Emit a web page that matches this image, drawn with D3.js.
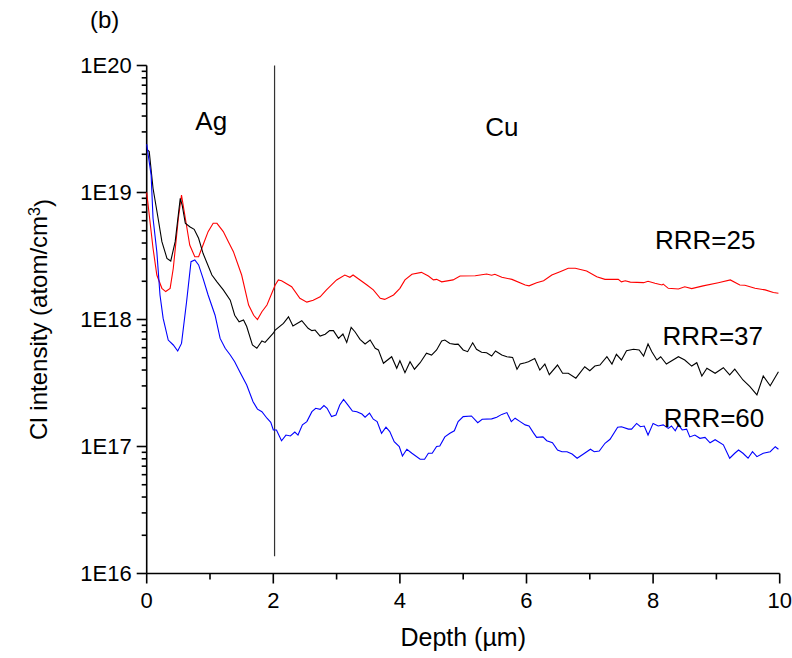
<!DOCTYPE html>
<html>
<head>
<meta charset="utf-8">
<script src="https://cdn.jsdelivr.net/npm/d3@7"></script>
<style>
  body { margin: 0; background: #fff; }
  text { font-family: "Liberation Sans", Arial, sans-serif; fill: #000; }
</style>
</head>
<body>
<div class="canvas"></div>
<script>
const margin = {top: 65.5, right: 12.3, bottom: 84.5, left: 146.7}
const graphWidth = 792 - margin.left - margin.right;
const graphHeight = 658 - margin.top - margin.bottom;

// depth (um), Cl intensity (atom/cm3)
const rrr25 = [
  [0.00,1.0e19],[0.10,3.64e18],[0.16,2.24e18],[0.24,1.76e18],[0.30,1.66e18],[0.37,1.76e18],
  [0.42,2.53e18],[0.50,6.27e18],[0.55,9.55e18],[0.61,6.27e18],[0.68,3.86e18],[0.76,3.12e18],
  [0.82,3.12e18],[0.89,3.86e18],[0.97,4.92e18],[1.05,5.72e18],[1.11,5.72e18],[1.21,4.92e18],
  [1.29,4.1e18],[1.37,3.42e18],[1.50,2.24e18],[1.61,1.30e18],[1.69,1.08e18],[1.75,1.0e18],
  [1.82,1.15e18],[1.90,1.30e18],[2.03,1.87e18],[2.08,2.05e18],[2.13,2.02e18],[2.29,1.81e18],
  [2.42,1.47e18],[2.53,1.37e18],[2.63,1.42e18],[2.74,1.51e18],[2.84,1.71e18],[3.00,2.05e18],
  [3.13,2.24e18],[3.21,2.15e18],[3.26,2.24e18],[3.48,1.87e18],[3.58,1.71e18],[3.69,1.47e18],
  [3.76,1.44e18],[3.90,1.56e18],[4.00,1.76e18],[4.08,2.05e18],[4.19,2.27e18],[4.34,2.35e18],
  [4.45,2.20e18],[4.53,2.05e18],[4.58,2.07e18],[4.66,1.98e18],[4.84,2.05e18],[4.95,2.20e18],
  [5.19,2.21e18],[5.37,2.28e18],[5.45,2.23e18],[5.50,2.27e18],[5.61,2.15e18],[5.77,2.07e18],
  [5.98,1.87e18],[6.04,1.84e18],[6.16,1.95e18],[6.27,2.02e18],[6.40,2.24e18],[6.53,2.38e18],
  [6.66,2.53e18],[6.77,2.53e18],[6.95,2.41e18],[7.11,2.17e18],[7.24,2.07e18],[7.45,2.07e18],
  [7.50,1.98e18],[7.56,2.02e18],[7.64,1.97e18],[7.85,1.95e18],[7.92,2.00e18],[8.03,1.93e18],
  [8.14,1.87e18],[8.16,1.90e18],[8.24,1.76e18],[8.40,1.74e18],[8.50,1.81e18],[8.61,1.75e18],
  [8.79,1.84e18],[9.03,1.95e18],[9.22,2.05e18],[9.37,1.87e18],[9.45,1.86e18],[9.61,1.76e18],
  [9.77,1.71e18],[9.90,1.63e18],[9.98,1.61e18]
];

const rrr37 = [
  [0.00,2.2e19],[0.04,2.1e19],[0.10,1.08e19],[0.18,6.27e18],[0.24,4.1e18],[0.32,3.03e18],
  [0.38,2.89e18],[0.45,4.1e18],[0.53,9.0e18],[0.56,7.97e18],[0.61,5.72e18],[0.68,5.38e18],
  [0.75,5.13e18],[0.82,4.36e18],[0.89,3.32e18],[1.03,2.24e18],[1.11,1.98e18],[1.21,1.71e18],
  [1.32,1.42e18],[1.39,1.08e18],[1.46,9.6e17],[1.53,9.9e17],[1.58,8.8e17],[1.67,6.3e17],
  [1.74,5.94e17],[1.82,6.77e17],[1.87,6.6e17],[2.00,7.8e17],[2.03,8.26e17],[2.16,9.33e17],
  [2.24,1.05e18],[2.31,8.89e17],[2.45,9.78e17],[2.55,8.52e17],[2.61,8.17e17],[2.66,8.26e17],
  [2.74,7.41e17],[2.82,7.65e17],[2.89,8.17e17],[2.95,8.17e17],[3.03,7.1e17],[3.10,7.69e17],
  [3.16,6.6e17],[3.23,8.68e17],[3.29,8.01e17],[3.37,6.98e17],[3.45,6.42e17],[3.53,6.89e17],
  [3.61,5.94e17],[3.66,5.76e17],[3.74,4.52e17],[3.87,5.09e17],[3.95,4.13e17],[4.00,4.74e17],
  [4.08,3.81e17],[4.16,4.65e17],[4.23,4.06e17],[4.32,4.57e17],[4.42,5.42e17],[4.50,5.25e17],
  [4.58,5.76e17],[4.66,6.77e17],[4.71,6.89e17],[4.79,6.48e17],[4.87,6.37e17],[4.92,6.4e17],
  [5.00,5.76e17],[5.07,5.58e17],[5.15,6.56e17],[5.21,5.83e17],[5.29,5.52e17],[5.37,5.48e17],
  [5.45,5.16e17],[5.51,5.65e17],[5.61,5.25e17],[5.69,5.09e17],[5.78,5.03e17],[5.85,4.06e17],
  [5.90,4.46e17],[5.98,4.57e17],[6.03,4.65e17],[6.13,4.92e17],[6.21,4.0e17],[6.29,4.46e17],
  [6.36,3.68e17],[6.49,4.38e17],[6.57,3.77e17],[6.66,3.77e17],[6.78,3.45e17],[6.92,4.25e17],
  [7.00,3.95e17],[7.08,4.3e17],[7.16,4.38e17],[7.27,5.09e17],[7.35,4.46e17],[7.42,5.32e17],
  [7.50,4.8e17],[7.58,5.68e17],[7.69,5.83e17],[7.78,5.76e17],[7.85,5.16e17],[7.92,6.42e17],
  [7.98,5.58e17],[8.06,4.8e17],[8.12,5.09e17],[8.21,4.46e17],[8.40,5.09e17],[8.50,4.8e17],
  [8.61,4.3e17],[8.69,4.57e17],[8.77,3.59e17],[8.85,4.13e17],[8.98,3.77e17],[9.11,4.17e17],
  [9.21,3.66e17],[9.29,4.06e17],[9.42,3.34e17],[9.53,2.96e17],[9.64,2.55e17],[9.74,3.59e17],
  [9.85,3.01e17],[9.98,3.88e17]
];

const rrr60 = [
  [0.00,2.4e19],[0.07,1.37e19],[0.10,6.27e18],[0.16,3.42e18],[0.21,1.56e18],[0.26,1.02e18],
  [0.34,6.89e17],[0.42,6.3e17],[0.49,5.65e17],[0.55,6.48e17],[0.63,1.38e18],[0.70,2.85e18],
  [0.76,2.94e18],[0.82,2.69e18],[0.89,2.11e18],[0.97,1.56e18],[1.08,1.08e18],[1.16,7.1e17],
  [1.24,5.94e17],[1.32,5.25e17],[1.39,4.65e17],[1.47,3.88e17],[1.58,3.05e17],[1.68,2.25e17],
  [1.75,1.97e17],[1.82,1.88e17],[1.90,1.67e17],[1.96,1.55e17],[2.00,1.35e17],[2.05,1.35e17],
  [2.13,1.11e17],[2.20,1.23e17],[2.27,1.21e17],[2.34,1.30e17],[2.39,1.23e17],[2.46,1.48e17],
  [2.53,1.57e17],[2.61,1.88e17],[2.67,2.0e17],[2.74,1.96e17],[2.80,2.1e17],[2.85,2.0e17],
  [2.92,1.72e17],[2.99,1.77e17],[3.05,2.12e17],[3.11,2.35e17],[3.18,2.12e17],[3.25,1.9e17],
  [3.32,1.88e17],[3.40,1.8e17],[3.45,1.7e17],[3.52,1.83e17],[3.58,1.64e17],[3.64,1.57e17],
  [3.71,1.27e17],[3.78,1.42e17],[3.84,1.31e17],[3.91,1.09e17],[3.99,1.0e17],[4.04,8.42e16],
  [4.11,9.51e16],[4.19,8.85e16],[4.32,7.93e16],[4.39,7.93e16],[4.45,8.85e16],[4.51,8.85e16],
  [4.58,1.0e17],[4.63,1.01e17],[4.71,1.19e17],[4.79,1.27e17],[4.86,1.33e17],[4.92,1.57e17],
  [5.00,1.72e17],[5.13,1.74e17],[5.23,1.54e17],[5.30,1.64e17],[5.45,1.65e17],[5.53,1.7e17],
  [5.61,1.79e17],[5.69,1.85e17],[5.76,1.57e17],[5.82,1.67e17],[5.90,1.57e17],[5.98,1.48e17],
  [6.04,1.45e17],[6.11,1.28e17],[6.16,1.18e17],[6.26,1.19e17],[6.32,1.11e17],[6.41,1.07e17],
  [6.49,9.38e16],[6.56,9.1e16],[6.64,9.1e16],[6.72,8.72e16],[6.80,8.08e16],[6.90,8.72e16],
  [7.01,9.51e16],[7.07,9.1e16],[7.15,9.22e16],[7.24,1.06e17],[7.32,1.14e17],[7.44,1.42e17],
  [7.50,1.43e17],[7.61,1.37e17],[7.66,1.37e17],[7.74,1.52e17],[7.80,1.43e17],[7.86,1.45e17],
  [7.92,1.23e17],[8.00,1.52e17],[8.08,1.45e17],[8.16,1.48e17],[8.24,1.39e17],[8.29,1.45e17],
  [8.35,1.33e17],[8.40,1.48e17],[8.46,1.35e17],[8.53,1.37e17],[8.58,1.19e17],[8.66,1.23e17],
  [8.74,1.16e17],[8.82,1.18e17],[8.90,1.07e17],[8.98,1.13e17],[9.11,1.03e17],[9.21,8.08e16],
  [9.29,8.85e16],[9.35,9.38e16],[9.42,8.85e16],[9.50,8.08e16],[9.57,9.1e16],[9.64,8.32e16],
  [9.74,8.85e16],[9.85,9.1e16],[9.93,9.96e16],[9.98,9.51e16]
];

const seriesNames = ["RRR=25", "RRR=37", "RRR=60"];
const seriesColours = ["#ff0000", "#000000", "#0000ff"];
const seriesData = [rrr25, rrr37, rrr60];
const labelPos = [[8.03, 3.57e18], [8.15, 6.3e17], [8.17, 1.42e17]]; // baseline of the series names

const xTicks = [0, 2, 4, 6, 8, 10];
const xMinorTicks = [1, 3, 5, 7, 9];
const yTicks = [1e16, 1e17, 1e18, 1e19, 1e20];
const yTickLabels = ["1E16", "1E17", "1E18", "1E19", "1E20"];

const interfaceDepth = 2.02;       // Ag / Cu boundary
const interfaceRange = [1.37e16, 1e20];
const regionLabels = [["Ag", 1.02, 3.1e19], ["Cu", 5.61, 2.79e19]];

const svg = d3.select('.canvas')
    .append('svg')
    .attr('width', 792)
    .attr('height', 658)

const graph = svg.append('g')
    .attr('transform', `translate(${margin.left}, ${margin.top})`);

const x = d3.scaleLinear().domain([0, 10]).range([0, graphWidth]);
const y = d3.scaleLog().domain([1e16, 1e20]).range([graphHeight, 0]);

// minor ticks on the log axis: 2..9 in every decade
const yMinorTicks = [];
for (let e = 16; e < 20; e++) {
    for (let m = 2; m <= 9; m++) yMinorTicks.push(m * Math.pow(10, e));
}

// x axis
const xAxisGroup = graph.append('g').attr('transform', `translate(0, ${graphHeight})`);
xAxisGroup.append('line')
    .attr('x1', 0).attr('x2', graphWidth)
    .attr('stroke', '#000').attr('stroke-width', 1.6);
xAxisGroup.selectAll('.major').data(xTicks).enter().append('line')
    .attr('x1', d => x(d)).attr('x2', d => x(d))
    .attr('y1', 0).attr('y2', 10)
    .attr('stroke', '#000').attr('stroke-width', 1.6);
xAxisGroup.selectAll('.minor').data(xMinorTicks).enter().append('line')
    .attr('x1', d => x(d)).attr('x2', d => x(d))
    .attr('y1', 0).attr('y2', 6)
    .attr('stroke', '#000').attr('stroke-width', 1.6);
xAxisGroup.selectAll('text').data(xTicks).enter().append('text')
    .attr('x', d => x(d)).attr('y', 34)
    .attr('text-anchor', 'middle')
    .style('font-size', '22px')
    .text(d => d);

// y axis
const yAxisGroup = graph.append('g');
yAxisGroup.append('line')
    .attr('y1', 0).attr('y2', graphHeight)
    .attr('stroke', '#000').attr('stroke-width', 1.6);
yAxisGroup.selectAll('.major').data(yTicks).enter().append('line')
    .attr('y1', d => y(d)).attr('y2', d => y(d))
    .attr('x1', -10).attr('x2', 0)
    .attr('stroke', '#000').attr('stroke-width', 1.6);
yAxisGroup.selectAll('.minor').data(yMinorTicks).enter().append('line')
    .attr('y1', d => y(d)).attr('y2', d => y(d))
    .attr('x1', -5).attr('x2', 0)
    .attr('stroke', '#000').attr('stroke-width', 1.6);
yAxisGroup.selectAll('text').data(yTicks).enter().append('text')
    .attr('x', -15).attr('y', d => y(d))
    .attr('dy', '0.36em')
    .attr('text-anchor', 'end')
    .style('font-size', '22px')
    .text((d, i) => yTickLabels[i]);

// Ag | Cu boundary
graph.append('line')
    .attr('x1', x(interfaceDepth)).attr('x2', x(interfaceDepth))
    .attr('y1', y(interfaceRange[1])).attr('y2', y(interfaceRange[0]))
    .attr('stroke', '#333').attr('stroke-width', 1.2);

const line = d3.line().x(d => x(d[0])).y(d => y(d[1]));

seriesData.forEach((data, i) => {
    graph.append('path')
        .attr('d', line(data))
        .attr('fill', 'none')
        .attr('stroke', seriesColours[i])
        .attr('stroke-width', 1.1);
    graph.append('text')
        .attr('x', x(labelPos[i][0])).attr('y', y(labelPos[i][1]))
        .style('font-size', '26px')
        .text(seriesNames[i]);
});

graph.selectAll('.region').data(regionLabels).enter().append('text')
    .attr('x', d => x(d[1])).attr('y', d => y(d[2]))
    .attr('text-anchor', 'middle')
    .style('font-size', '26px')
    .text(d => d[0]);

// titles
svg.append('text')
    .attr('x', margin.left + graphWidth / 2).attr('y', 646)
    .attr('text-anchor', 'middle')
    .style('font-size', '25px')
    .text('Depth (µm)');

const yTitle = svg.append('text')
    .attr('transform', `translate(47, ${margin.top + graphHeight / 2}) rotate(-90)`)
    .attr('text-anchor', 'middle')
    .style('font-size', '24px');
yTitle.append('tspan').text('Cl intensity (atom/cm');
yTitle.append('tspan').attr('dy', '-0.45em').style('font-size', '16px').text('3');
yTitle.append('tspan').attr('dy', '0.45em').text(')');

svg.append('text')
    .attr('x', 90).attr('y', 28)
    .style('font-size', '24px')
    .text('(b)');
</script>
</body>
</html>
